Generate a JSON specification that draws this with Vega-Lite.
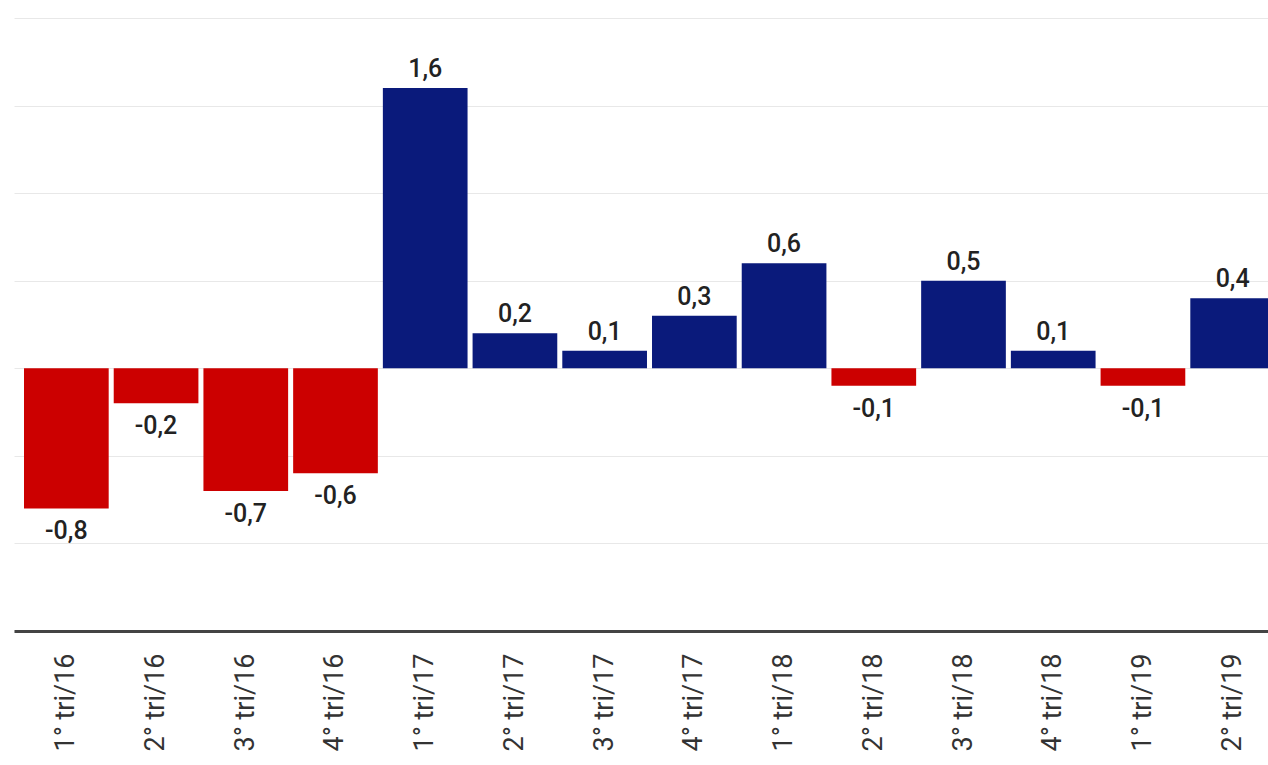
{
  "$schema": "https://vega.github.io/schema/vega-lite/v6.json",
  "autosize": "none",
  "width": 1254,
  "height": 613,
  "padding": {"left": 14, "top": 18, "right": 0, "bottom": 134},
  "background": "white",
  "config": {
    "locale": {
      "number": {"decimal": ",", "thousands": ".", "grouping": [3], "currency": ["R$", ""], "minus": "-"}
    },
    "view": {"stroke": null},
    "font": "Roboto"
  },
  "data": {
    "values": [
      {"tri": "1° tri/16", "valor": -0.8},
      {"tri": "2° tri/16", "valor": -0.2},
      {"tri": "3° tri/16", "valor": -0.7},
      {"tri": "4° tri/16", "valor": -0.6},
      {"tri": "1° tri/17", "valor": 1.6},
      {"tri": "2° tri/17", "valor": 0.2},
      {"tri": "3° tri/17", "valor": 0.1},
      {"tri": "4° tri/17", "valor": 0.3},
      {"tri": "1° tri/18", "valor": 0.6},
      {"tri": "2° tri/18", "valor": -0.1},
      {"tri": "3° tri/18", "valor": 0.5},
      {"tri": "4° tri/18", "valor": 0.1},
      {"tri": "1° tri/19", "valor": -0.1},
      {"tri": "2° tri/19", "valor": 0.4}
    ]
  },
  "encoding": {
    "x": {
      "field": "tri",
      "type": "ordinal",
      "sort": null,
      "title": null,
      "scale": {"range": [0, 1271], "paddingInner": 0.056, "paddingOuter": 0.1115},
      "axis": {
        "labelAngle": 270,
        "labelAlign": "right",
        "labelBaseline": "middle",
        "labelFontSize": 27,
        "labelColor": "#333333",
        "labelPadding": 22,
        "ticks": false,
        "tickSize": 0,
        "domainColor": "#444444",
        "domainWidth": 3,
        "grid": false,
        "zindex": 1
      }
    },
    "y": {
      "field": "valor",
      "type": "quantitative",
      "title": null,
      "scale": {"domain": [-1.5, 2], "nice": false, "zero": false},
      "axis": {
        "values": [-1.5, -1, -0.5, 0, 0.5, 1, 1.5, 2],
        "labels": false,
        "ticks": false,
        "domain": false,
        "grid": true,
        "gridColor": "#e8e8e8",
        "gridWidth": 1
      }
    }
  },
  "layer": [
    {
      "mark": {"type": "bar", "clip": true},
      "encoding": {
        "y2": {"datum": 0},
        "color": {
          "condition": {"test": "datum.valor < 0", "value": "#cc0000"},
          "value": "#0a1a7b"
        }
      }
    },
    {
      "transform": [{"filter": "datum.valor >= 0"}],
      "mark": {"type": "text", "baseline": "alphabetic", "dy": -11, "fontSize": 25, "fontWeight": 500, "color": "#222222"},
      "encoding": {"text": {"field": "valor", "type": "quantitative", "format": ".1f"}}
    },
    {
      "transform": [{"filter": "datum.valor < 0"}],
      "mark": {"type": "text", "baseline": "alphabetic", "dy": 31, "fontSize": 25, "fontWeight": 500, "color": "#222222"},
      "encoding": {"text": {"field": "valor", "type": "quantitative", "format": ".1f"}}
    }
  ]
}
